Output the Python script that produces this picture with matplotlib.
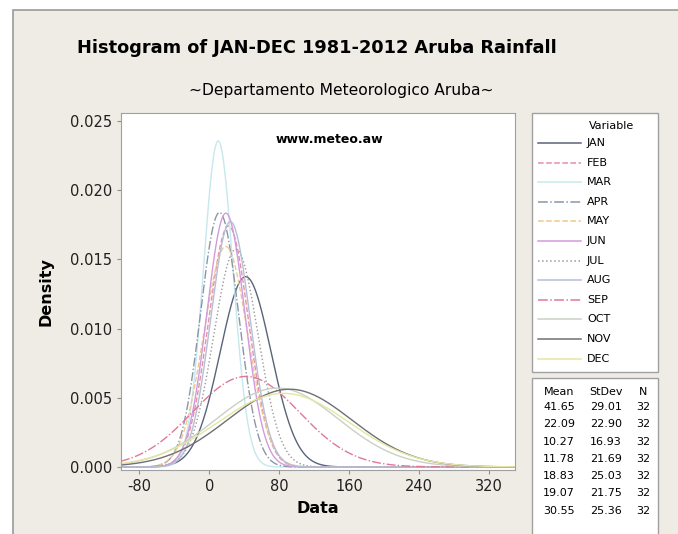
import numpy as np
import matplotlib
matplotlib.use('Agg')
import matplotlib.pyplot as plt
from matplotlib.patches import Rectangle

plt.rcParams['font.family'] = ['DejaVu Sans']
plt.rcParams['axes.unicode_minus'] = False

# Datos (los últimos 5 meses estimados de las curvas)
months = ['JAN', 'FEB', 'MAR', 'APR', 'MAY', 'JUN',
          'JUL', 'AUG', 'SEP', 'OCT', 'NOV', 'DEC']
means = [41.65, 22.09, 10.27, 11.78, 18.83, 19.07,
         30.55, 24.20, 42.00, 78.00, 92.00, 85.00]
stdevs = [29.01, 22.90, 16.93, 21.69, 25.03, 21.75,
          25.36, 22.50, 61.00, 70.00, 71.00, 75.00]
counts = [32] * 12

x_ticks = [-80, 0, 80, 160, 240, 320]
y_ticks = [0.000, 0.005, 0.010, 0.015, 0.020, 0.025]

colors = ['#5a6478', '#e890a8', '#c6e8ee', '#8a96a8', '#f0c890', '#d49ade',
          '#9a9a9a', '#b4c0d6', '#e07896', '#c8d2c4', '#707074', '#e6e6a0']
styles = ['-', '--', '-', '-.', '--', '-', ':', '-', '-.', '-', '-', '-']

W, H = 678, 534
fig = plt.figure(figsize=(W / 100, H / 100), dpi=100)
fig.patch.set_facecolor('white')


def fx(px):
    return px / W


def fy(py):
    return 1 - py / H


# panel de fondo
fig.patches.append(Rectangle((fx(13), -0.1), 1.2, fy(10) + 0.1,
                             transform=fig.transFigure, facecolor='#efece5',
                             edgecolor='#9a9a9a', linewidth=1.2, zorder=0))

ax = fig.add_axes([fx(121), fy(470), fx(515) - fx(121), fy(113) - fy(470)])
ax.set_zorder(3)
ax.set_facecolor('white')

xs = np.linspace(-101, 350, 800)
for m, mu, sd, c, ls in zip(months, means, stdevs, colors, styles):
    pdf = np.exp(-0.5 * ((xs - mu) / sd) ** 2) / (sd * np.sqrt(2 * np.pi))
    ax.plot(xs, pdf, color=c, linestyle=ls, linewidth=1.0, label=m)

ax.set_xlim(-101, 350)
ax.set_ylim(-0.00022, 0.02558)
ax.set_xticks(x_ticks)
ax.set_yticks(y_ticks)
ax.set_yticklabels([f'{v:.3f}' for v in y_ticks])
ax.tick_params(labelsize=10.5, colors='#202020', length=3, color='#909090')
for s in ax.spines.values():
    s.set_color('#a0a0a0')
ax.set_xlabel('Data', fontsize=11.5, fontweight='bold', labelpad=5)
ax.set_ylabel('Density', fontsize=11.5, fontweight='bold', labelpad=12)
ax.text(0.53, 0.925, 'www.meteo.aw', transform=ax.transAxes, ha='center',
        va='center', fontsize=9, fontweight='bold')

fig.text(fx(317), fy(48), 'Histogram of JAN-DEC 1981-2012 Aruba Rainfall',
         ha='center', va='center', fontsize=12.8, fontweight='bold')
fig.text(fx(341), fy(90), '~Departamento Meteorologico Aruba~',
         ha='center', va='center', fontsize=11.2)

# caja de leyenda
fig.patches.append(Rectangle((fx(532), fy(372)), fx(658) - fx(532), fy(113) - fy(372),
                             transform=fig.transFigure, facecolor='white',
                             edgecolor='#a0a0a0', linewidth=1, zorder=1))
fig.text(fx(612), fy(126), 'Variable', ha='center', va='center', fontsize=8)
for i, (m, c, ls) in enumerate(zip(months, colors, styles)):
    yy = fy(143 + i * 19.6)
    fig.add_artist(plt.Line2D([fx(538), fx(581)], [yy, yy], color=c,
                              linestyle=ls, linewidth=1.1, transform=fig.transFigure))
    fig.text(fx(587), yy, m, ha='left', va='center', fontsize=8)

# tabla de estadísticas (solo se ven las filas que caben)
fig.patches.append(Rectangle((fx(532), -0.1), fx(658) - fx(532), fy(378) + 0.1,
                             transform=fig.transFigure, facecolor='white',
                             edgecolor='#a0a0a0', linewidth=1, zorder=1))
col_x = [fx(559), fx(606), fx(643)]
for cx, hdr in zip(col_x, ['Mean', 'StDev', 'N']):
    fig.text(cx, fy(392), hdr, ha='center', va='center', fontsize=8)
for i, (mu, sd, n) in enumerate(zip(means, stdevs, counts)):
    row_px = 407 + i * 17.3
    if row_px > 520:
        break
    yy = fy(row_px)
    for cx, s in zip(col_x, [f'{mu:.2f}', f'{sd:.2f}', f'{n}']):
        fig.text(cx, yy, s, ha='center', va='center', fontsize=8)

fig.savefig('out.png', dpi=100)
